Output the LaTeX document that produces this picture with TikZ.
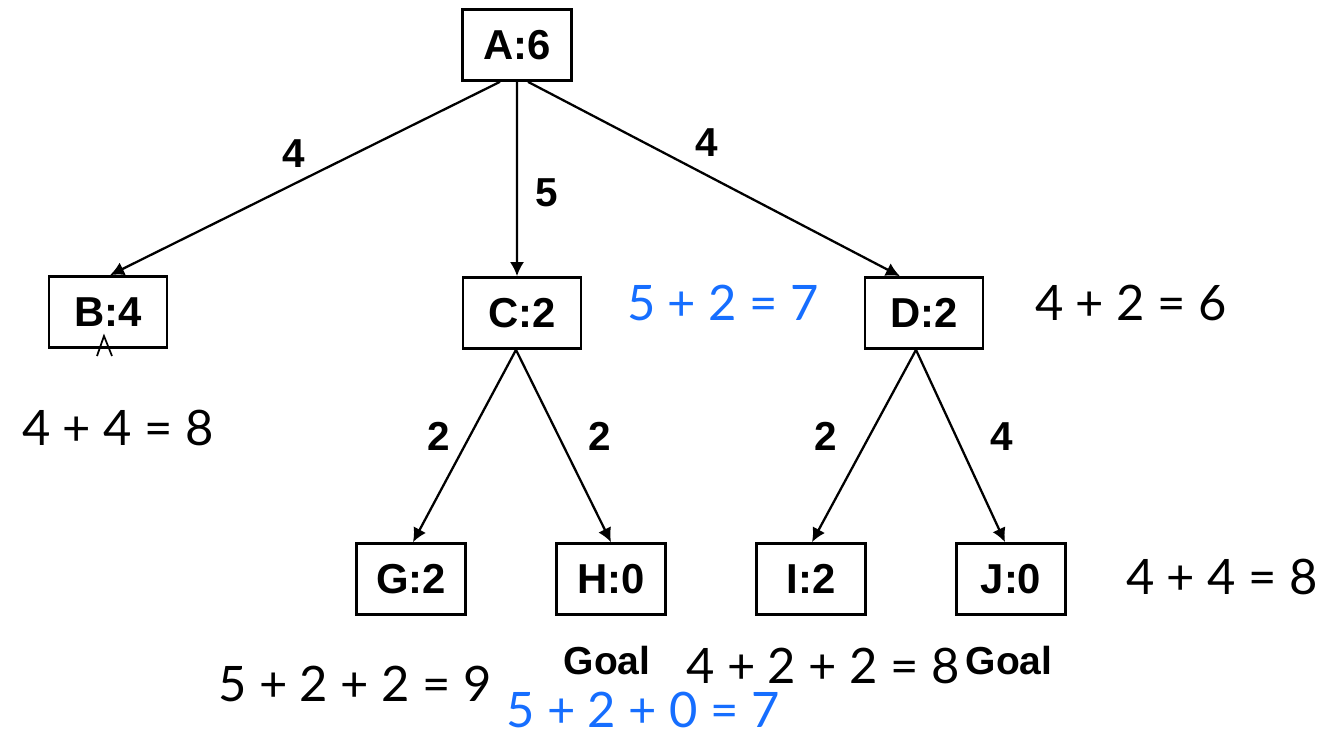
\documentclass[tikz,border=0pt]{standalone}
\usepackage{fontspec}
\setmainfont{Liberation Sans}
\newfontfamily\sumfont{Lato}
\usetikzlibrary{arrows.meta}
\definecolor{pathblue}{RGB}{22,110,255}
\tikzset{
  hnode/.style={draw, line width=0.75pt, font=\fontsize{11.9}{14}\selectfont\bfseries,
    minimum width=1.09cm, minimum height=0.71cm, inner sep=0pt},
  wide/.style={minimum width=1.18cm},
  cost/.style={font=\fontsize{11.5}{14}\selectfont\bfseries, inner sep=0pt},
  fsum/.style={font=\sumfont\fontsize{13.9}{16}\selectfont, inner sep=0pt},
  goal/.style={font=\fontsize{11.1}{13}\selectfont\bfseries, inner sep=0pt},
}
\begin{document}
\begin{tikzpicture}[x=0.01cm, y=-0.01cm]
  \useasboundingbox (0,0) rectangle (1337,733);
  % search tree
  \node[hnode] (A) at (517,45) {A:6};
  \node[hnode,wide] (B) at (108,312) {B:4};
  \node[hnode,wide] (C) at (522,313) {C:2};
  \node[hnode,wide] (D) at (924,313) {D:2};
  \node[hnode] (G) at (411,579) {G:2};
  \node[hnode] (H) at (611,579) {H:0};
  \node[hnode] (I) at (811,579) {I:2};
  \node[hnode] (J) at (1011,579) {J:0};
  \path[-{Latex[length=4pt,width=4pt]}, line width=0.65pt]
    ([xshift=-0.17cm]A.south) edge node [cost, above=4.4pt, pos=0.53] {4} ([xshift=0.02cm]B.north)
    (A.south)                 edge node [cost, right=4.8pt, pos=0.57] {5} ([xshift=-0.05cm]C.north)
    ([xshift=0.11cm]A.south)  edge node [cost, above=4.9pt, pos=0.48] {4} ([xshift=-0.24cm]D.north)
    ([xshift=-0.06cm]C.south) edge node [cost, left=5.4pt, pos=0.45]  {2} ([xshift=0.02cm]G.north)
    ([xshift=-0.06cm]C.south) edge node [cost, right=8pt, pos=0.45]   {2} (H.north)
    ([xshift=-0.08cm]D.south) edge node [cost, left=8.8pt, pos=0.45]  {2} ([xshift=0.01cm]I.north)
    ([xshift=-0.08cm]D.south) edge node [cost, right=9.4pt, pos=0.45] {4} ([xshift=-0.06cm]J.north);
  \draw[line width=0.5pt] (97,356) -- (104,336) -- (112,356);
  % goal labels
  \node[goal] (goalH) at (607,661) {Goal};
  \node[goal] (goalJ) at (1009,661) {Goal};
  % path costs
  \node[fsum, text=pathblue] (sumC) at (723,303) {5 + 2 = 7};
  \node[fsum] (sumD) at (1131,303) {4 + 2 = 6};
  \node[fsum] (sumB) at (118,428) {4 + 4 = 8};
  \node[fsum] (sumJ) at (1222,577) {4 + 4 = 8};
  \node[fsum] (sumG) at (355,684) {5 + 2 + 2 = 9};
  \node[fsum] (sumI) at (823,666) {4 + 2 + 2 = 8};
  \node[fsum, text=pathblue] (sumH) at (643,710) {5 + 2 + 0 = 7};
\end{tikzpicture}
\end{document}
